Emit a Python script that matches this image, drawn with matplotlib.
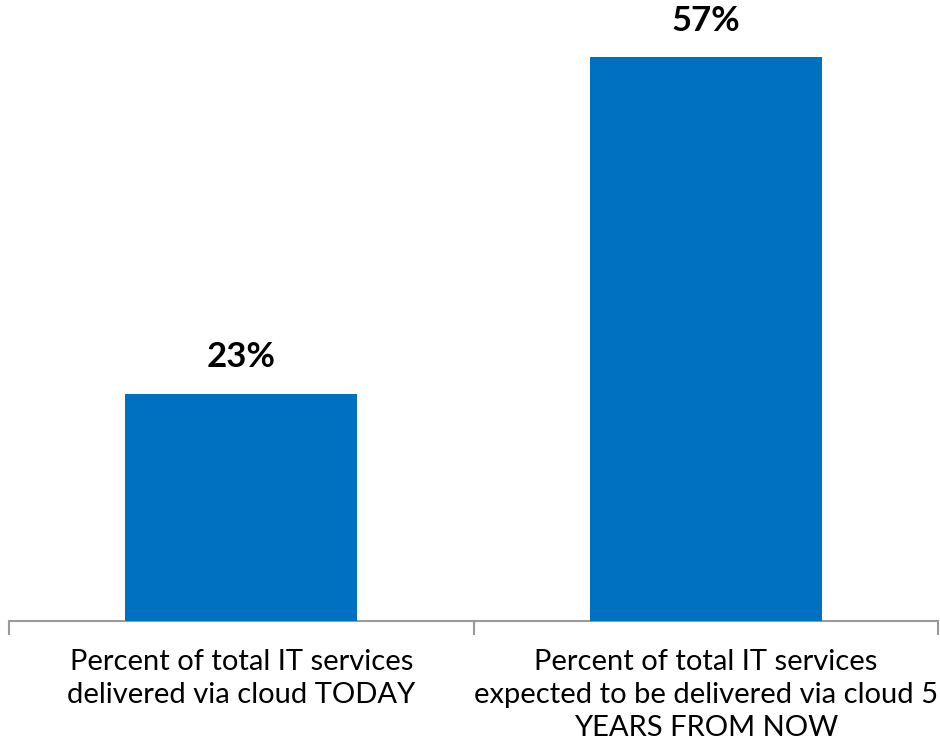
import matplotlib
matplotlib.use("Agg")
import matplotlib.pyplot as plt

categories = ["Percent of total IT services\ndelivered via cloud TODAY",
              "Percent of total IT services\nexpected to be delivered via cloud 5\nYEARS FROM NOW"]
values = [23, 57]
value_labels = ["23%", "57%"]

plt.rcParams['font.family'] = ['Lato', 'DejaVu Sans']

fig = plt.figure(figsize=(9.4, 7.48), dpi=100)
ax = fig.add_axes([9/940, 1 - 621/748, 929/940, 621/748])

x = list(range(len(values)))
bars = ax.bar(x, values, width=0.5, color='#0070C0', zorder=3)
ax.set_xlim(-0.5, len(values) - 0.5)
ax.set_ylim(0, 62.8)

for xi, v, lab in zip(x, values, value_labels):
    ax.text(xi, v + 2.1, lab, ha='center', va='bottom', fontsize=25,
            fontweight='bold', color='black')

for s in ['top', 'right', 'left']:
    ax.spines[s].set_visible(False)
ax.spines['bottom'].set_color('#9a9a9a')
ax.spines['bottom'].set_linewidth(1.5)
ax.set_yticks([])
ax.set_xticks([-0.5, 0.5, 1.5], minor=False)
ax.set_xticklabels(['', '', ''])
ax.tick_params(axis='x', which='major', length=10, width=1.5, color='#9a9a9a')
ax.set_xticks(x, minor=True)
ax.set_xticklabels(categories, minor=True, fontsize=21, linespacing=1.33)
ax.tick_params(axis='x', which='minor', length=0, pad=20)
lbls = ax.get_xticklabels(minor=True)
lbls[1].set_x(1.0)

fig.savefig("out.png", dpi=100)
